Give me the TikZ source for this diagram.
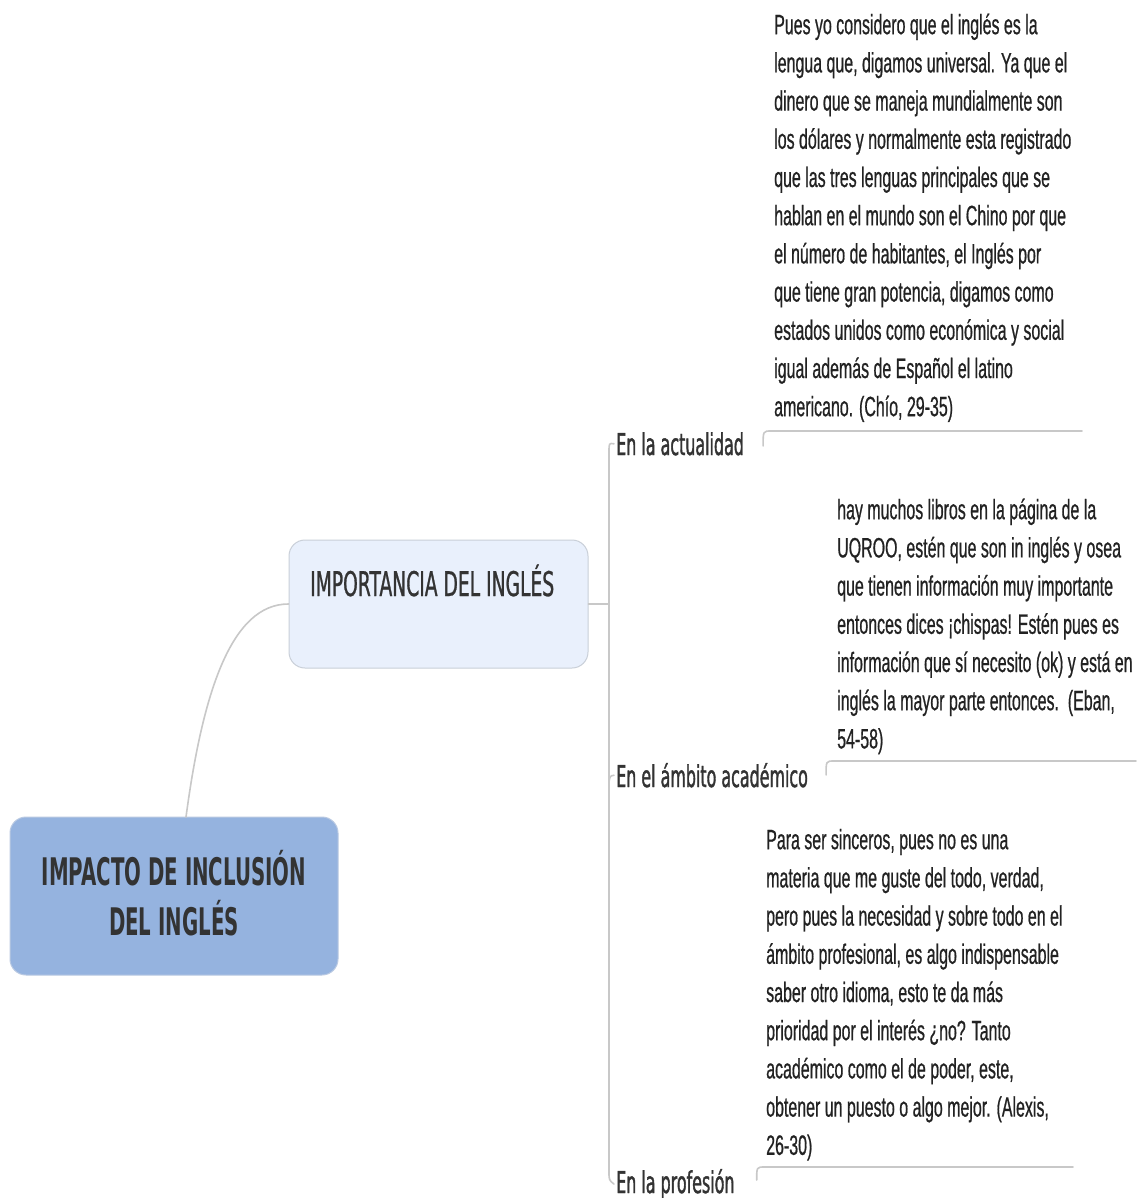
\documentclass[tikz,border=0pt]{standalone}
\usepackage{fontspec}
\setmainfont{Liberation Sans}
\newfontfamily\qfont[FakeStretch=0.57,FakeBold=0.6]{Liberation Sans}
\newfontfamily\lfont[FakeStretch=0.53,FakeBold=1.2]{DejaVu Sans}
\newfontfamily\ifont[FakeStretch=0.55,FakeBold=0.8]{DejaVu Sans}
\newfontfamily\cfont[FakeStretch=0.52]{DejaVu Sans}
\definecolor{cfill}{HTML}{95B3DF}
\definecolor{cdraw}{HTML}{B9C9E2}
\definecolor{ifill}{HTML}{E9F0FC}
\definecolor{idraw}{HTML}{C9CFD8}
\definecolor{txt}{HTML}{333333}
\definecolor{qtxt}{HTML}{222222}
\definecolor{lnk}{HTML}{C8C8C8}
\tikzset{
  conn/.style={draw=lnk, line width=1.6pt, line cap=round},
  mainbox/.style={draw=cdraw, line width=1pt, fill=cfill, rounded corners=16pt},
  subbox/.style={draw=idraw, line width=1pt, fill=ifill, rounded corners=16pt},
  quote/.style={anchor=north west, inner sep=0pt, align=left, text=qtxt,
    font=\qfont\fontsize{28}{38.2}\selectfont},
  branch/.style={anchor=base west, inner sep=0pt, text=txt,
    font=\lfont\fontsize{30}{36}\selectfont},
}
\begin{document}
\begin{tikzpicture}[x=1pt,y=-1pt]
\useasboundingbox[fill=white] (0,0) rectangle (1136,1198);

% central topic
\draw[mainbox] (10,817) rectangle (338,975);
\node (c) at (174,893) [inner sep=0pt, align=center, text=txt,
  font=\cfont\bfseries\fontsize{38}{50}\selectfont] {IMPACTO DE INCLUSIÓN\\DEL INGLÉS};
\coordinate (ctop) at (186,817);

% main subtopic
\node (imp) [subbox, minimum width=299pt, minimum height=128pt, inner sep=0pt] at (438.5,604) {};
\node (impt) [anchor=base west, inner sep=0pt, text=txt,
  font=\ifont\fontsize{34}{40}\selectfont] at (310,596) {IMPORTANCIA DEL INGLÉS};

\draw[conn] (ctop) .. controls (203,690) and (232,604) .. (imp.west);

% branches
\node (l1) [branch] at (616,455) {En la actualidad};
\node (l2) [branch] at (616,787) {En el ámbito académico};
\node (l3) [branch] at (616,1193) {En la profesión};

\coordinate (sp) at (609,604);
\draw[conn] (imp.east) -- (sp);
\draw[conn] ([xshift=-2pt]l1.west) .. controls (609,443) .. (609,452) -- (609,1172)
  .. controls (609,1180) .. ([xshift=-2pt]l3.west);
\draw[conn] (609,782) .. controls (610,776) .. ([xshift=-2pt]l2.west);

% quotes
\node (q1) [quote] at (774,9) {\rule{0pt}{25pt}Pues yo considero que el inglés es la\\
lengua que, digamos universal. Ya que el\\
dinero que se maneja mundialmente son\\
los dólares y normalmente esta registrado\\
que las tres lenguas principales que se\\
hablan en el mundo son el Chino por que\\
el número de habitantes, el Inglés por\\
que tiene gran potencia, digamos como\\
estados unidos como económica y social\\
igual además de Español el latino\\
americano. (Chío, 29-35)};

\node (q2) [quote] at (837,494) {\rule{0pt}{25pt}hay muchos libros en la página de la\\
UQROO, estén que son in inglés y osea\\
que tienen información muy importante\\
entonces dices ¡chispas! Estén pues es\\
información que sí necesito (ok) y está en\\
inglés la mayor parte entonces.\ \ (Eban,\\
54-58)};

\node (q3) [quote] at (766,824) {\rule{0pt}{25pt}Para ser sinceros, pues no es una\\
materia que me guste del todo, verdad,\\
pero pues la necesidad y sobre todo en el\\
ámbito profesional, es algo indispensable\\
saber otro idioma, esto te da más\\
prioridad por el interés ¿no? Tanto\\
académico como el de poder, este,\\
obtener un puesto o algo mejor. (Alexis,\\
26-30)};

% links from branches to quotes
\coordinate (s1) at ([xshift=19pt,yshift=9pt]l1.base east);
\coordinate (s2) at ([xshift=18pt,yshift=12pt]l2.base east);
\coordinate (s3) at ([xshift=22pt,yshift=13pt]l3.base east);
\coordinate (e1) at (1082,431);
\coordinate (e2) at (1136,761);
\coordinate (e3) at (1073,1167);
\draw[conn] (s1) .. controls (s1 |- e1) .. ([xshift=8pt]s1 |- e1) -- (e1);
\draw[conn] (s2) .. controls (s2 |- e2) .. ([xshift=8pt]s2 |- e2) -- (e2);
\draw[conn] (s3) .. controls (s3 |- e3) .. ([xshift=8pt]s3 |- e3) -- (e3);
\end{tikzpicture}
\end{document}
